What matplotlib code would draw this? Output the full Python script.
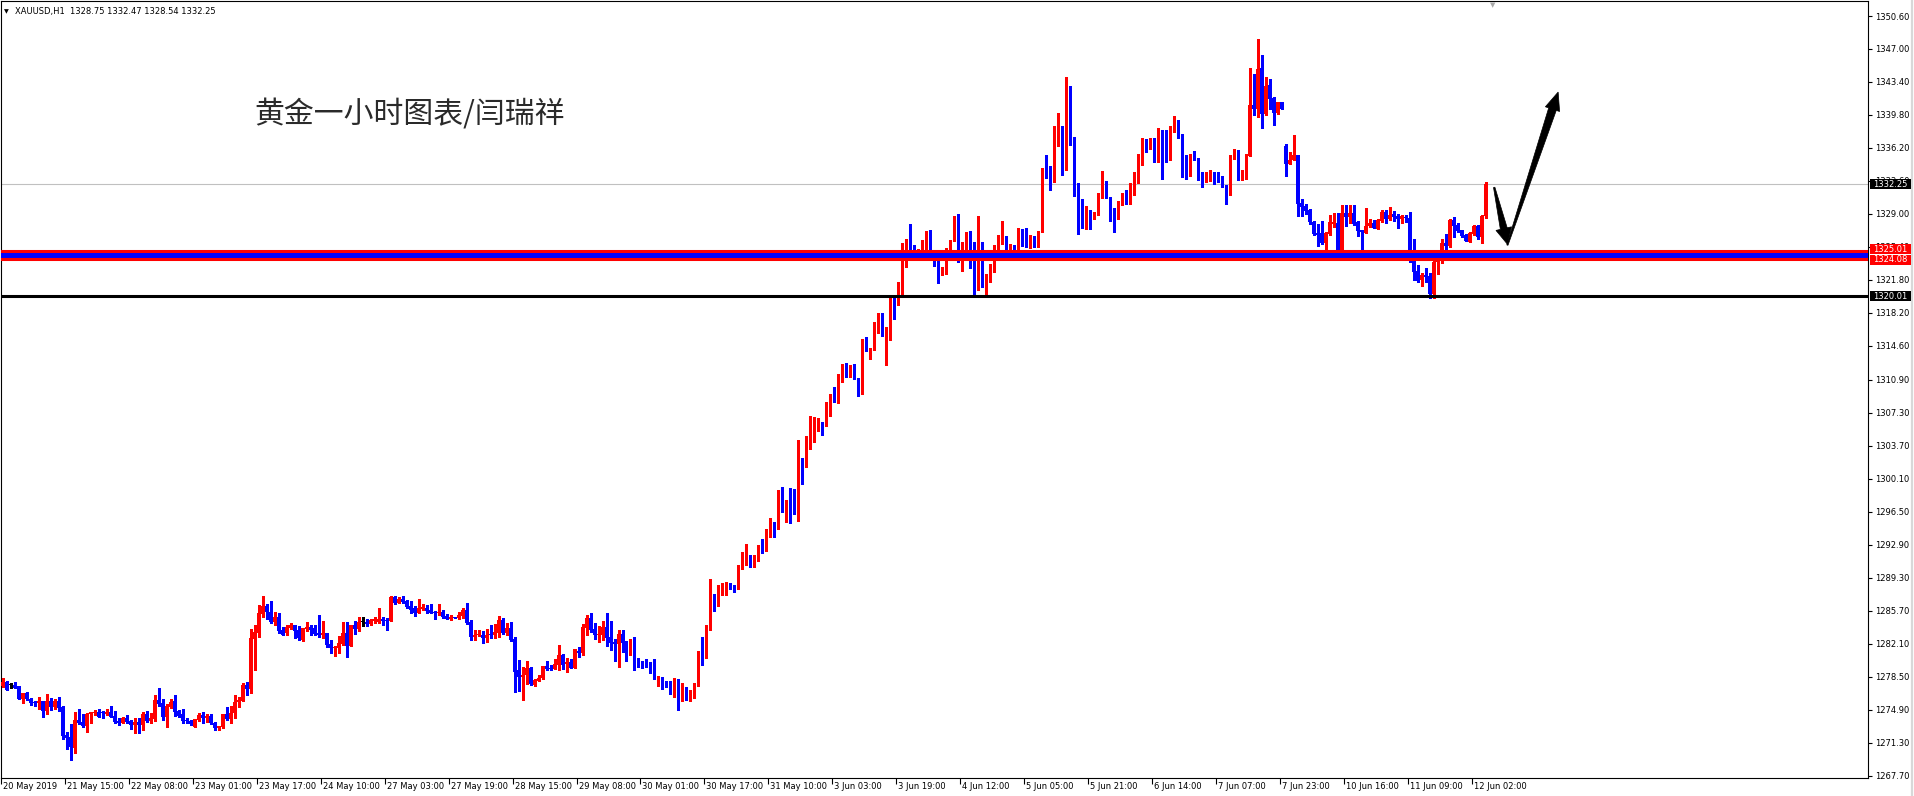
import matplotlib
matplotlib.use("Agg")
import matplotlib.pyplot as plt
import numpy as np
from matplotlib.patches import Rectangle, Polygon
from matplotlib.lines import Line2D
from matplotlib.transforms import IdentityTransform

# ---------------- data (XAUUSD H1, bar 0 .. 371) ----------------
opens = [
    1277.5, 1277.9, 1277.6, 1277.6, 1277.5, 1276.1, 1276.7, 1276.1, 1275.7, 1275.6,
    1275.8, 1274.8, 1275.8, 1275.2, 1275.8, 1275.2, 1272.1, 1271.9, 1270.7, 1273.8,
    1273.6, 1273.1, 1274.4, 1274.5, 1274.6, 1274.7, 1274.4, 1274.6, 1274.2, 1273.7,
    1273.5, 1274.0, 1273.7, 1273.2, 1273.6, 1273.2, 1274.4, 1273.7, 1273.9, 1276.0,
    1275.6, 1274.1, 1275.2, 1275.8, 1274.8, 1274.4, 1273.8, 1273.7, 1273.05, 1273.8,
    1274.3, 1274.0, 1274.2, 1273.5, 1272.9, 1273.0, 1274.4, 1273.9, 1274.5, 1275.7,
    1275.9, 1277.6, 1277.2, 1282.65, 1283.3, 1285.35, 1286.2, 1285.6, 1284.5, 1285.0,
    1283.6, 1283.3, 1283.8, 1284.1, 1283.6, 1282.5, 1283.7, 1283.9, 1283.8, 1283.3,
    1283.1, 1283.3, 1282.1, 1281.6, 1281.6, 1282.1, 1283.3, 1281.9, 1284.1, 1283.7,
    1284.5, 1284.5, 1284.3, 1284.6, 1284.5, 1284.8, 1284.7, 1284.6, 1287.2, 1286.5,
    1287.0, 1286.8, 1286.2, 1286.0, 1285.5, 1285.9, 1286.0, 1285.8, 1285.6, 1285.5,
    1285.6, 1285.1, 1284.8, 1285.0, 1284.9, 1285.1, 1285.8, 1284.5, 1282.8, 1283.0,
    1283.1, 1282.7, 1283.1, 1283.0, 1283.3, 1284.7, 1283.3, 1283.8, 1282.6, 1279.2,
    1278.5, 1278.7, 1279.5, 1277.6, 1278.0, 1278.4, 1279.7, 1279.5, 1279.3, 1279.8,
    1280.9, 1279.9, 1280.1, 1279.5, 1281.3, 1281.1, 1283.8, 1284.9, 1283.7, 1283.0,
    1283.1, 1283.9, 1282.8, 1282.3, 1282.1, 1283.2, 1282.3, 1281.45, 1282.2, 1280.4,
    1280.0, 1279.9, 1279.9, 1279.8, 1278.2, 1278.4, 1278.0, 1277.85, 1277.1, 1277.6,
    1276.3, 1277.1, 1276.55, 1276.65, 1277.75, 1281.2, 1280.8, 1283.6, 1287.2, 1287.0,
    1287.85, 1288.0, 1288.7, 1288.4, 1288.1, 1290.25, 1291.6, 1291.8, 1290.7, 1291.5,
    1292.8, 1292.3, 1294.44, 1295.05, 1294.65, 1298.8, 1297.25, 1297.5, 1297.1, 1296.5,
    1302.4, 1301.6, 1304.5, 1304.6, 1306.2, 1306.3, 1306.35, 1308.1, 1309.4, 1308.5,
    1311.4, 1312.5, 1311.75, 1312.5, 1311.1, 1309.4, 1315.05, 1314.1, 1314.2, 1316.3,
    1317.0, 1315.8, 1316.45, 1320.2, 1319.1, 1320.3, 1325.5, 1326.2, 1325.2, 1324.6,
    1324.7, 1324.8, 1327.0, 1324.0, 1323.75, 1322.4, 1323.0, 1324.3, 1326.1, 1328.3,
    1324.3, 1324.7, 1326.8, 1323.3, 1323.0, 1325.1, 1321.1, 1322.35, 1323.3, 1325.4,
    1325.9, 1326.4, 1325.0, 1325.4, 1325.2, 1326.8, 1326.7, 1325.5, 1326.6, 1325.4,
    1327.0, 1333.5, 1333.4, 1332.5, 1337.7, 1338.6, 1334.8, 1340.7, 1337.3, 1332.3,
    1328.7, 1328.6, 1329.3, 1328.45, 1329.0, 1330.7, 1332.5, 1330.85, 1329.0, 1328.7,
    1330.2, 1331.3, 1330.5, 1332.2, 1332.4, 1334.6, 1336.6, 1336.2, 1336.7, 1336.4,
    1337.1, 1335.8, 1335.5, 1338.2, 1339.1, 1337.7, 1334.2, 1333.6, 1335.2, 1335.1,
    1333.4, 1333.0, 1333.2, 1333.25, 1333.0, 1332.9, 1332.05, 1331.2, 1335.2, 1335.9,
    1332.7, 1332.8, 1335.3, 1340.9, 1340.45, 1344.9, 1339.9, 1343.1, 1341.65, 1340.0,
    1341.2, 1336.4, 1334.45, 1334.9, 1335.4, 1330.2, 1329.9, 1329.4, 1328.1, 1326.9,
    1326.9, 1325.8, 1326.8, 1327.9, 1328.0, 1324.6, 1329.1, 1328.7, 1329.1, 1328.1,
    1327.2, 1326.9, 1327.7, 1328.0, 1327.35, 1328.2, 1329.2, 1328.45, 1329.0, 1328.8,
    1328.45, 1328.65, 1328.6, 1324.0, 1322.8, 1321.8, 1322.3, 1322.2, 1320.25, 1323.75,
    1324.0, 1325.8, 1325.5, 1328.3, 1327.8, 1327.2, 1326.7, 1325.9, 1326.8, 1327.7,
    1326.5, 1328.75,
]
highs = [
    1278.4, 1278.0, 1277.8, 1277.9, 1277.5, 1276.7, 1276.8, 1276.2, 1275.8, 1276.3,
    1275.8, 1276.6, 1276.2, 1276.1, 1276.3, 1275.3, 1272.5, 1273.3, 1274.6, 1275.0,
    1274.4, 1274.5, 1274.7, 1274.9, 1275.0, 1274.8, 1275.0, 1275.3, 1274.8, 1274.0,
    1274.1, 1274.3, 1273.8, 1274.0, 1274.0, 1274.6, 1274.8, 1274.5, 1276.5, 1277.3,
    1276.1, 1275.5, 1276.1, 1276.5, 1274.9, 1275.0, 1274.0, 1273.8, 1273.9, 1274.5,
    1274.6, 1274.4, 1274.4, 1273.6, 1273.1, 1274.4, 1275.2, 1275.3, 1276.5, 1276.3,
    1277.8, 1277.9, 1283.7, 1284.1, 1286.3, 1287.3, 1286.4, 1286.8, 1285.6, 1285.4,
    1283.9, 1284.1, 1284.4, 1284.1, 1284.0, 1283.8, 1284.5, 1284.1, 1284.1, 1285.2,
    1284.6, 1283.3, 1282.5, 1281.8, 1282.9, 1284.5, 1284.5, 1284.1, 1284.6, 1285.0,
    1285.0, 1284.8, 1284.8, 1285.0, 1286.0, 1285.0, 1284.9, 1287.3, 1287.3, 1287.2,
    1287.3, 1286.9, 1286.8, 1286.2, 1287.0, 1286.4, 1286.3, 1286.4, 1285.7, 1286.4,
    1285.8, 1285.3, 1285.2, 1285.0, 1285.6, 1286.0, 1286.5, 1284.7, 1283.6, 1283.6,
    1283.5, 1283.7, 1284.1, 1284.3, 1285.1, 1284.9, 1284.4, 1284.5, 1282.8, 1280.3,
    1279.6, 1280.2, 1279.6, 1278.3, 1278.7, 1279.7, 1280.2, 1279.8, 1280.4, 1282.0,
    1281.0, 1280.5, 1280.4, 1281.5, 1281.7, 1284.3, 1285.2, 1285.5, 1284.4, 1284.0,
    1284.6, 1285.5, 1284.6, 1282.65, 1283.6, 1283.6, 1282.4, 1282.65, 1282.8, 1280.5,
    1280.25, 1280.4, 1280.1, 1280.4, 1278.6, 1278.5, 1278.0, 1278.0, 1278.4, 1278.2,
    1277.85, 1277.4, 1277.1, 1277.85, 1281.35, 1282.8, 1284.1, 1289.2, 1287.5, 1288.5,
    1288.7, 1288.8, 1288.7, 1288.5, 1290.7, 1292.1, 1293.0, 1291.8, 1291.8, 1292.9,
    1293.5, 1294.6, 1295.8, 1295.4, 1298.9, 1299.2, 1297.8, 1299.05, 1299.0, 1304.3,
    1302.4, 1304.8, 1306.9, 1306.8, 1306.7, 1306.3, 1308.5, 1309.4, 1310.1, 1311.5,
    1312.6, 1312.7, 1312.5, 1312.6, 1311.1, 1315.35, 1315.6, 1314.4, 1317.25, 1318.2,
    1318.2, 1316.7, 1319.8, 1320.2, 1321.6, 1325.8, 1326.3, 1327.9, 1325.6, 1325.2,
    1326.2, 1327.1, 1327.2, 1324.1, 1324.0, 1323.2, 1325.25, 1326.2, 1328.8, 1329.0,
    1325.9, 1327.0, 1327.1, 1325.9, 1328.8, 1325.9, 1322.5, 1323.5, 1325.6, 1326.7,
    1328.2, 1326.6, 1325.7, 1325.6, 1327.5, 1327.4, 1327.5, 1326.7, 1326.6, 1327.1,
    1334.0, 1335.4, 1334.2, 1338.6, 1340.0, 1338.6, 1343.9, 1342.96, 1337.4, 1332.4,
    1330.6, 1329.9, 1329.4, 1329.2, 1331.3, 1333.7, 1332.6, 1330.85, 1329.6, 1330.4,
    1331.3, 1331.6, 1332.4, 1333.6, 1335.5, 1337.3, 1337.2, 1337.3, 1337.3, 1338.4,
    1338.2, 1338.2, 1338.6, 1339.7, 1339.2, 1337.7, 1335.4, 1335.5, 1335.9, 1335.1,
    1333.6, 1333.6, 1333.8, 1333.6, 1333.6, 1333.1, 1332.2, 1335.4, 1336.1, 1336.0,
    1333.8, 1335.5, 1344.9, 1344.3, 1348.1, 1346.3, 1343.9, 1343.7, 1341.8, 1341.2,
    1341.2, 1336.6, 1335.75, 1337.6, 1335.4, 1330.6, 1330.1, 1329.5, 1328.2, 1327.9,
    1328.2, 1327.0, 1328.9, 1329.1, 1329.1, 1330.0, 1330.0, 1330.0, 1330.0, 1328.2,
    1327.2, 1329.6, 1328.4, 1328.3, 1328.45, 1329.4, 1329.4, 1329.75, 1329.3, 1329.0,
    1328.9, 1328.9, 1329.2, 1326.3, 1323.4, 1322.55, 1323.1, 1322.55, 1325.06, 1325.1,
    1326.3, 1326.8, 1328.4, 1328.7, 1328.0, 1327.3, 1326.8, 1327.0, 1327.8, 1327.8,
    1328.9, 1332.47,
]
lows = [
    1277.4, 1277.0, 1277.3, 1277.3, 1276.1, 1275.6, 1276.0, 1275.4, 1275.3, 1275.0,
    1274.1, 1274.4, 1274.9, 1275.0, 1274.8, 1271.7, 1270.6, 1269.4, 1270.2, 1273.3,
    1273.0, 1272.5, 1273.4, 1274.3, 1274.1, 1274.0, 1274.3, 1274.1, 1273.5, 1273.2,
    1273.4, 1273.4, 1272.8, 1272.4, 1272.4, 1272.7, 1273.6, 1273.4, 1273.7, 1275.3,
    1273.8, 1273.0, 1275.1, 1274.2, 1274.1, 1273.5, 1273.4, 1273.2, 1273.0, 1273.7,
    1273.5, 1273.6, 1273.3, 1272.7, 1272.7, 1272.9, 1273.8, 1273.4, 1274.0, 1275.2,
    1275.8, 1276.5, 1276.7, 1279.2, 1282.8, 1285.0, 1284.8, 1284.4, 1284.1, 1283.3,
    1283.1, 1283.1, 1283.7, 1282.7, 1282.5, 1282.4, 1283.5, 1283.1, 1283.1, 1282.8,
    1282.7, 1281.7, 1281.1, 1280.8, 1281.1, 1282.0, 1280.7, 1281.8, 1283.2, 1283.5,
    1284.0, 1284.0, 1284.1, 1284.4, 1284.4, 1284.1, 1283.6, 1284.6, 1286.4, 1286.5,
    1286.5, 1286.0, 1285.5, 1285.1, 1285.5, 1285.8, 1285.5, 1285.5, 1284.8, 1285.2,
    1284.9, 1284.8, 1284.7, 1284.9, 1284.8, 1284.9, 1284.3, 1282.5, 1282.5, 1282.9,
    1282.2, 1282.3, 1282.7, 1282.7, 1282.8, 1283.2, 1283.1, 1282.4, 1276.8, 1276.9,
    1276.0, 1277.7, 1277.6, 1277.5, 1278.0, 1278.3, 1279.2, 1279.2, 1279.3, 1279.2,
    1279.3, 1279.05, 1279.4, 1279.5, 1280.6, 1280.9, 1283.0, 1283.4, 1282.6, 1282.3,
    1282.5, 1281.9, 1281.4, 1280.25, 1279.6, 1281.2, 1280.25, 1280.9, 1279.2, 1279.6,
    1279.4, 1279.6, 1278.95, 1278.2, 1277.5, 1277.2, 1277.4, 1276.65, 1276.3, 1274.9,
    1275.8, 1276.0, 1275.8, 1276.2, 1277.5, 1279.8, 1280.5, 1283.6, 1285.7, 1286.2,
    1287.4, 1287.4, 1288.1, 1287.75, 1288.1, 1290.25, 1290.7, 1290.5, 1290.5, 1291.1,
    1292.0, 1292.2, 1293.7, 1293.8, 1294.65, 1296.5, 1295.4, 1295.3, 1296.3, 1295.5,
    1299.5, 1301.4, 1303.4, 1304.1, 1305.35, 1304.9, 1305.9, 1306.9, 1308.5, 1308.4,
    1310.7, 1311.25, 1311.25, 1310.95, 1309.1, 1309.3, 1314.0, 1313.2, 1314.1, 1316.05,
    1315.7, 1312.5, 1315.25, 1317.5, 1319.1, 1320.2, 1323.25, 1325.1, 1324.6, 1324.3,
    1324.6, 1324.5, 1324.0, 1323.3, 1321.5, 1322.3, 1322.45, 1324.0, 1326.0, 1323.8,
    1322.8, 1324.2, 1323.1, 1320.2, 1320.7, 1321.0, 1320.2, 1321.6, 1322.7, 1325.1,
    1325.7, 1325.1, 1324.3, 1325.1, 1325.1, 1325.5, 1325.4, 1325.3, 1325.4, 1325.4,
    1327.0, 1332.9, 1331.6, 1332.5, 1336.4, 1333.25, 1333.8, 1336.5, 1331.0, 1326.8,
    1327.5, 1327.4, 1327.4, 1328.45, 1328.9, 1330.7, 1330.7, 1328.2, 1327.0, 1328.5,
    1330.0, 1330.1, 1330.1, 1331.1, 1332.4, 1334.3, 1335.8, 1336.1, 1334.7, 1334.7,
    1332.8, 1334.7, 1334.9, 1337.9, 1337.3, 1333.03, 1332.8, 1333.1, 1334.9, 1332.7,
    1331.9, 1332.5, 1332.6, 1332.3, 1332.5, 1331.9, 1330.1, 1331.1, 1335.0, 1332.7,
    1332.7, 1332.8, 1335.3, 1339.8, 1339.6, 1338.4, 1339.8, 1340.45, 1338.7, 1339.9,
    1340.45, 1333.1, 1334.45, 1334.9, 1328.8, 1328.8, 1329.0, 1327.9, 1326.7, 1325.5,
    1325.7, 1325.06, 1326.7, 1327.6, 1324.4, 1324.3, 1327.7, 1328.0, 1327.8, 1326.6,
    1325.06, 1326.9, 1327.6, 1327.5, 1327.35, 1328.1, 1328.0, 1328.3, 1328.2, 1327.5,
    1328.0, 1328.1, 1323.8, 1321.8, 1321.6, 1321.1, 1321.6, 1319.8, 1319.8, 1322.4,
    1323.65, 1325.2, 1325.4, 1326.5, 1327.0, 1326.5, 1326.0, 1325.9, 1326.7, 1326.3,
    1325.8, 1328.54,
]
closes = [
    1277.9, 1277.1, 1277.6, 1277.3, 1276.1, 1276.7, 1276.1, 1275.6, 1275.6, 1275.8,
    1274.8, 1275.8, 1275.2, 1275.8, 1275.1, 1272.0, 1271.8, 1270.8, 1273.8, 1273.4,
    1273.1, 1274.4, 1274.6, 1274.65, 1274.1, 1274.5, 1274.65, 1274.1, 1273.6, 1273.4,
    1274.0, 1273.6, 1273.2, 1273.6, 1273.2, 1274.4, 1273.7, 1274.0, 1276.0, 1275.5,
    1274.1, 1275.3, 1275.7, 1274.7, 1274.2, 1273.7, 1273.7, 1273.3, 1273.85, 1274.3,
    1274.0, 1274.2, 1273.4, 1272.9, 1273.1, 1274.4, 1273.9, 1274.5, 1275.7, 1276.0,
    1277.6, 1277.2, 1282.7, 1283.4, 1285.45, 1286.2, 1285.6, 1284.5, 1285.0, 1283.5,
    1283.1, 1283.9, 1284.1, 1283.5, 1282.7, 1283.8, 1283.9, 1283.6, 1283.2, 1283.1,
    1283.3, 1282.0, 1281.6, 1281.7, 1282.2, 1283.3, 1281.9, 1284.1, 1283.7, 1284.5,
    1284.5, 1284.3, 1284.7, 1284.8, 1284.8, 1284.6, 1284.6, 1287.2, 1286.5, 1287.0,
    1286.7, 1286.1, 1285.8, 1285.5, 1286.0, 1286.1, 1285.7, 1285.5, 1285.5, 1285.6,
    1285.0, 1284.8, 1285.0, 1284.9, 1285.2, 1285.8, 1284.4, 1282.8, 1283.1, 1283.1,
    1282.7, 1283.1, 1283.0, 1283.4, 1284.7, 1283.3, 1283.8, 1282.5, 1279.05, 1278.5,
    1278.7, 1279.5, 1277.7, 1278.1, 1278.4, 1279.7, 1279.3, 1279.3, 1279.9, 1280.9,
    1279.8, 1280.1, 1279.5, 1281.5, 1281.1, 1283.9, 1284.9, 1283.6, 1283.0, 1283.2,
    1283.9, 1282.7, 1282.2, 1282.1, 1283.2, 1282.2, 1281.5, 1282.2, 1280.4, 1279.7,
    1279.8, 1279.8, 1279.7, 1278.2, 1278.4, 1277.85, 1277.75, 1277.1, 1277.6, 1276.2,
    1277.1, 1276.55, 1276.75, 1277.75, 1281.2, 1280.8, 1283.7, 1287.3, 1287.0, 1288.0,
    1288.1, 1288.7, 1288.1, 1288.1, 1290.4, 1291.6, 1291.8, 1290.7, 1291.6, 1292.55,
    1292.3, 1294.5, 1295.06, 1294.65, 1298.8, 1297.3, 1297.6, 1297.05, 1296.4, 1302.4,
    1301.6, 1304.6, 1304.7, 1306.3, 1306.3, 1305.0, 1308.3, 1309.4, 1308.5, 1311.5,
    1312.5, 1311.75, 1312.5, 1311.0, 1309.5, 1315.05, 1314.1, 1314.4, 1316.45, 1317.0,
    1315.8, 1316.45, 1319.8, 1319.1, 1320.5, 1325.6, 1326.2, 1325.1, 1324.9, 1324.9,
    1324.9, 1327.0, 1324.1, 1323.75, 1322.4, 1323.0, 1324.4, 1326.2, 1328.35, 1324.05,
    1324.8, 1326.8, 1323.25, 1323.1, 1325.3, 1321.1, 1322.45, 1323.3, 1325.4, 1326.05,
    1326.4, 1325.1, 1325.4, 1325.2, 1326.8, 1326.6, 1325.5, 1326.6, 1325.4, 1327.0,
    1333.5, 1333.1, 1332.5, 1337.8, 1338.6, 1334.8, 1340.7, 1337.2, 1332.3, 1328.6,
    1328.6, 1329.3, 1328.45, 1329.2, 1330.0, 1332.5, 1330.7, 1328.9, 1328.7, 1330.3,
    1331.3, 1330.5, 1332.4, 1332.5, 1334.7, 1336.6, 1336.1, 1336.7, 1336.4, 1337.1,
    1335.7, 1335.5, 1338.3, 1339.0, 1337.6, 1334.1, 1333.6, 1335.3, 1335.0, 1333.25,
    1333.0, 1333.25, 1333.4, 1332.9, 1332.8, 1331.9, 1331.2, 1335.3, 1335.9, 1332.8,
    1332.9, 1335.4, 1340.9, 1340.45, 1344.8, 1339.9, 1342.96, 1341.5, 1340.0, 1341.2,
    1340.45, 1334.45, 1334.9, 1335.4, 1330.1, 1329.75, 1329.3, 1328.1, 1326.8, 1326.7,
    1325.8, 1326.9, 1328.1, 1328.1, 1324.6, 1329.1, 1328.7, 1329.1, 1327.9, 1327.1,
    1327.0, 1327.7, 1328.0, 1327.5, 1328.35, 1329.2, 1328.45, 1328.9, 1328.7, 1328.45,
    1328.8, 1328.55, 1324.0, 1322.65, 1321.7, 1322.3, 1322.1, 1320.25, 1323.75, 1324.8,
    1325.8, 1325.5, 1328.3, 1327.7, 1327.1, 1326.6, 1326.0, 1326.9, 1327.7, 1326.5,
    1328.75, 1332.25,
]

xtick_bars = [16 * k for k in range(24)]
xtick_labels = ["20 May 2019", "21 May 15:00", "22 May 08:00", "23 May 01:00",
                "23 May 17:00", "24 May 10:00", "27 May 03:00", "27 May 19:00",
                "28 May 15:00", "29 May 08:00", "30 May 01:00", "30 May 17:00",
                "31 May 10:00", "3 Jun 03:00", "3 Jun 19:00", "4 Jun 12:00",
                "5 Jun 05:00", "5 Jun 21:00", "6 Jun 14:00", "7 Jun 07:00",
                "7 Jun 23:00", "10 Jun 16:00", "11 Jun 09:00", "12 Jun 02:00"]
ytick_labels = ["1267.70", "1271.30", "1274.90", "1278.50", "1282.10", "1285.70",
                "1289.30", "1292.90", "1296.50", "1300.10", "1303.70", "1307.30",
                "1310.90", "1314.60", "1318.20", "1321.80", "1325.40", "1329.00",
                "1332.60", "1336.20", "1339.80", "1343.40", "1347.00", "1350.60"]

bid_price = 1332.25
zone_top, zone_bottom = 1325.01, 1324.08
support = 1320.01
header = "XAUUSD,H1  1328.75 1332.47 1328.54 1332.25"
title_cn = "黄金一小时图表/闫瑞祥"

# arrows: (bar, price) tail -> tip
arrow_down = ((373.1, 1331.9), (376.4, 1325.7))
arrow_up = ((376.4, 1325.6), (389.1, 1342.3))

# ---------------- figure ----------------
W, H = 1915, 796
fig = plt.figure(figsize=(W / 100, H / 100), dpi=100)
fig.patch.set_facecolor("white")
ax = fig.add_axes([1 / W, 18 / H, 1867 / W, 777 / H])
ax.set_facecolor("white")
ax.set_xlim(-0.125, 466.625)
ax.set_ylim(1267.448, 1352.237)

o = np.array(opens); h = np.array(highs); l = np.array(lows); c = np.array(closes)
x = np.arange(len(o))
colors = np.where(c > o, "#ff0000", np.where(c < o, "#0000ff", "#000000"))

lo_w = np.minimum(l, np.minimum(o, c))
hi_w = np.maximum(h, np.maximum(o, c))
ax.vlines(x, lo_w, hi_w, colors=colors, lw=0.8, antialiased=False, zorder=3)
body_h = np.maximum(np.abs(c - o), 0.11)
ax.bar(x, body_h, bottom=np.minimum(o, c), width=0.75, color=colors,
       linewidth=0, antialiased=False, zorder=3)

ax.axhline(bid_price, color="#c0c0c0", lw=0.8, zorder=2)
ax.axhspan(zone_bottom, zone_top, color="#0000ff", lw=0, zorder=4)
ax.axhline(zone_top, color="#ff0000", lw=2.2, zorder=5)
ax.axhline(zone_bottom, color="#ff0000", lw=2.2, zorder=5)
ax.axhline(support, color="#000000", lw=2.2, zorder=5)

for s in ax.spines.values():
    s.set_color("black")
    s.set_linewidth(0.8)

# y axis on right
ax.yaxis.tick_right()
ax.set_yticks([float(v) for v in ytick_labels])
ax.set_yticklabels(ytick_labels)
ax.tick_params(axis="y", direction="out", length=3, width=0.8, labelsize=6,
               pad=2, colors="black")

# x axis
ax.set_xticks([b - 0.5 for b in xtick_bars])
ax.set_xticklabels([])
ax.tick_params(axis="x", direction="out", length=4, width=0.8)
for b, lab in zip(xtick_bars, xtick_labels):
    ax.annotate(lab, xy=(b - 0.5, 0), xycoords=("data", "axes fraction"),
                xytext=(2, -4), textcoords="offset pixels", ha="left", va="top",
                fontsize=6, color="black", annotation_clip=False)

# header texts
fig.text(4 / W, 1 - 11.5 / H, "▼", fontsize=4.5, va="center", ha="left")
fig.text(15 / W, 1 - 11.5 / H, header, fontsize=6, va="center", ha="left")
fig.text(254 / W, 1 - 115 / H, title_cn, fontsize=21.5, va="center", ha="left",
         family=["Noto Sans CJK SC", "DejaVu Sans"], fontweight=300,
         color="#2a2a2a")

# little gray shift marker at top
ax.annotate("▼", xy=(372.6, 1), xycoords=("data", "axes fraction"),
            xytext=(0, -4), textcoords="offset pixels", ha="center", va="center",
            fontsize=5, color="#a8a8a8")

# right-axis price boxes
def price_box(price, text, bg, dy=0.0):
    yp = ax.transData.transform((0, price))[1] + dy
    fig.add_artist(Rectangle((1870, yp - 5), 41, 10, transform=IdentityTransform(),
                             facecolor=bg, edgecolor="none", zorder=10))
    fig.text(1890.5 / W, yp / H, text, fontsize=6, color="white", ha="center",
             va="center", zorder=11)

price_box(bid_price, "1332.25", "#000000")
price_box(zone_top, "1325.01", "#ff0000", dy=1.5)
price_box(zone_bottom, "1324.08", "#ff0000", dy=-0.5)
price_box(support, "1320.01", "#000000")

# right edge gray strip
fig.add_artist(Line2D([1912.5 / W, 1912.5 / W], [0, 1], color="#d8d8d8", lw=1.6))

# hand drawn arrows
def draw_arrow(tail, tip, w0, w1, hw, hl):
    a = ax.transData.transform(tail)
    b = ax.transData.transform(tip)
    d = b - a
    L = np.hypot(*d)
    u = d / L
    n = np.array([-u[1], u[0]])
    s = a + u * (L - hl)
    pts = [a + n * w0, s + n * w1, s + n * hw, b, s - n * hw, s - n * w1, a - n * w0]
    fig.add_artist(Polygon(pts, closed=True, transform=IdentityTransform(),
                           facecolor="black", edgecolor="black", lw=0.5, zorder=12))

draw_arrow(*arrow_down, w0=0.7, w1=3.5, hw=8, hl=16)
draw_arrow(*arrow_up, w0=0.6, w1=4.0, hw=7.5, hl=18)

fig.savefig("out.png", dpi=100, facecolor="white")
